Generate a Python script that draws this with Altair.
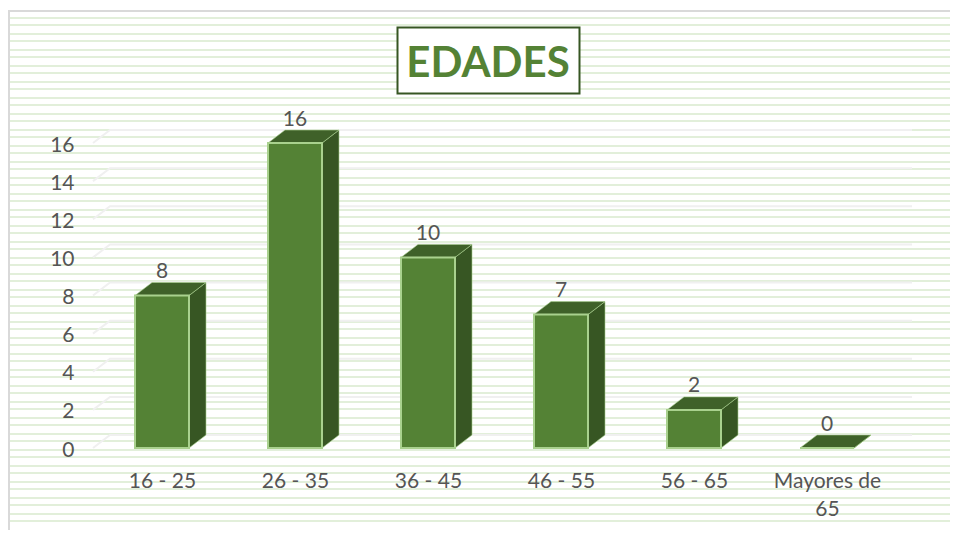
import altair as alt
import pandas as pd

categories = ["16 - 25", "26 - 35", "36 - 45", "46 - 55", "56 - 65", "Mayores de\n65"]
values = [8, 16, 10, 7, 2, 0]
y_ticks = [0, 2, 4, 6, 8, 10, 12, 14, 16]
title_text = "EDADES"

PX_X, X0 = 133.0, 162.0
PX_Y, Y0 = 19.06, 448.0
W, H = 942, 522
x_dom = [(8 - X0) / PX_X, (8 + W - X0) / PX_X]
y_dom = [(Y0 - 8 - H) / PX_Y, (Y0 - 8) / PX_Y]
half = 27 / PX_X
dx = 17 / PX_X
dy = 13 / PX_Y
xs = alt.Scale(domain=x_dom, nice=False, zero=False)
ys = alt.Scale(domain=y_dom, nice=False, zero=False)
ltx = lambda p: (p - X0) / PX_X
lty = lambda p: (Y0 - p) / PX_Y

GREEN, DARK, TOP, EDGE = "#548235", "#375623", "#3f6129", "#a9d18e"
TXT = "#555555"
FONT = "Lato"

idx = list(range(len(values)))
front = pd.DataFrame({"x": [i - half for i in idx], "x2": [i + half for i in idx], "v": values, "z": [0] * 6})
side = pd.DataFrame(
    [{"b": i, "x": i + half, "y": 0, "y2": v} for i, v in zip(idx, values)]
    + [{"b": i, "x": i + half + dx, "y": dy, "y2": v + dy} for i, v in zip(idx, values)]
)
top = pd.DataFrame(
    [{"b": i, "x": i - half, "x2": i + half, "y": v} for i, v in zip(idx, values)]
    + [{"b": i, "x": i - half + dx, "x2": i + half + dx, "y": v + dy} for i, v in zip(idx, values)]
)
labels = pd.DataFrame({"x": idx, "y": [v + 23.5 / PX_Y for v in values], "t": [str(v) for v in values]})

stripes = pd.DataFrame({"y": [lty(p) for s in range(18, 530, 16) for p in (s, s + 7) if p < 530]})
wall = pd.DataFrame(
    [{"v": v, "o": 0, "x": ltx(93), "y": v} for v in y_ticks]
    + [{"v": v, "o": 1, "x": ltx(110), "y": v + dy} for v in y_ticks]
    + [{"v": v, "o": 2, "x": ltx(912), "y": v + dy} for v in y_ticks]
)

label_expr = "split(split(" + repr("|".join(categories).replace("\n", "~")) + ", '|')[datum.value], '~')"

X = lambda f="x": alt.X(f, type="quantitative", scale=xs, title=None, axis=None)
Y = lambda f="y": alt.Y(f, type="quantitative", scale=ys, title=None, axis=None)

axes_layer = alt.Chart(pd.DataFrame({"x": idx, "y": values})).mark_point(opacity=0).encode(
    x=alt.X("x:Q", scale=xs, title=None, axis=alt.Axis(
        values=idx, labelExpr=label_expr, domain=False, ticks=False, grid=False, labelFont=FONT,
        labelFontSize=21, labelColor=TXT, offset=-60, labelPadding=0, labelFlush=False,
        labelOverlap=False, labelBound=False, labelLineHeight=28, labelBaseline="top", zindex=1)),
    y=alt.Y("y:Q", scale=ys, title=None, axis=alt.Axis(
        values=y_ticks, domain=False, ticks=False, grid=False, labelFont=FONT, labelFontSize=21,
        labelColor=TXT, offset=-66, labelPadding=0, labelOffset=2, labelOverlap=False, labelBound=False, zindex=1)),
)

stripe_layer = alt.Chart(stripes).mark_rule(color="#e2efda", strokeWidth=2).encode(y=Y(), x=alt.value(0), x2=alt.value(W))
left_border = alt.Chart(pd.DataFrame({"a": [0]})).mark_rule(color="#d9d9d9", strokeWidth=2).encode(x=alt.value(1), y=alt.value(3), y2=alt.value(H))
top_border = alt.Chart(pd.DataFrame({"a": [0]})).mark_rule(color="#d9d9d9", strokeWidth=2).encode(y=alt.value(3), x=alt.value(0), x2=alt.value(W))
wall_layer = alt.Chart(wall).mark_line(color="#f0f0f0", strokeWidth=2).encode(x=X(), y=Y(), detail="v:N", order="o:Q")

box = alt.Chart(pd.DataFrame({"x": [ltx(397.5)], "x2": [ltx(579.5)], "y": [lty(27.5)], "y2": [lty(93.5)]})).mark_rect(
    fill="white", stroke=DARK, strokeWidth=2
).encode(x=X(), x2="x2:Q", y=Y(), y2="y2:Q")
title_layer = alt.Chart(pd.DataFrame({"x": [ltx(488)], "y": [lty(77)], "t": [title_text]})).mark_text(
    font=FONT, fontSize=42, fontWeight="bold", color=GREEN, baseline="alphabetic", align="center"
).encode(x=X(), y=Y(), text="t:N")

side_layer = alt.Chart(side).mark_area(color=DARK, stroke=EDGE, strokeWidth=1, strokeOpacity=0.6).encode(
    x=X(), y=Y(), y2="y2:Q", detail="b:N")
top_layer = alt.Chart(top).mark_area(orient="horizontal", color=TOP, stroke=EDGE, strokeWidth=1, strokeOpacity=0.6).encode(
    x=X(), x2="x2:Q", y=Y(), detail="b:N")
front_layer = alt.Chart(front).mark_rect(color=GREEN, stroke=EDGE, strokeWidth=2).encode(
    x=X(), x2="x2:Q", y=Y("v"), y2="z:Q")
text_layer = alt.Chart(labels).mark_text(font=FONT, fontSize=21, color=TXT, baseline="middle").encode(
    x=X(), y=Y(), text="t:N")

chart = alt.layer(
    stripe_layer, left_border, top_border, wall_layer, box, title_layer, side_layer, top_layer, front_layer, text_layer, axes_layer
).resolve_axis(x="independent", y="independent").properties(
    width=W, height=H, padding=0, autosize=alt.AutoSizeParams(type="none"),
).configure_view(stroke=None)

chart.save("out.html", embed_options={"renderer": "svg", "actions": False})
